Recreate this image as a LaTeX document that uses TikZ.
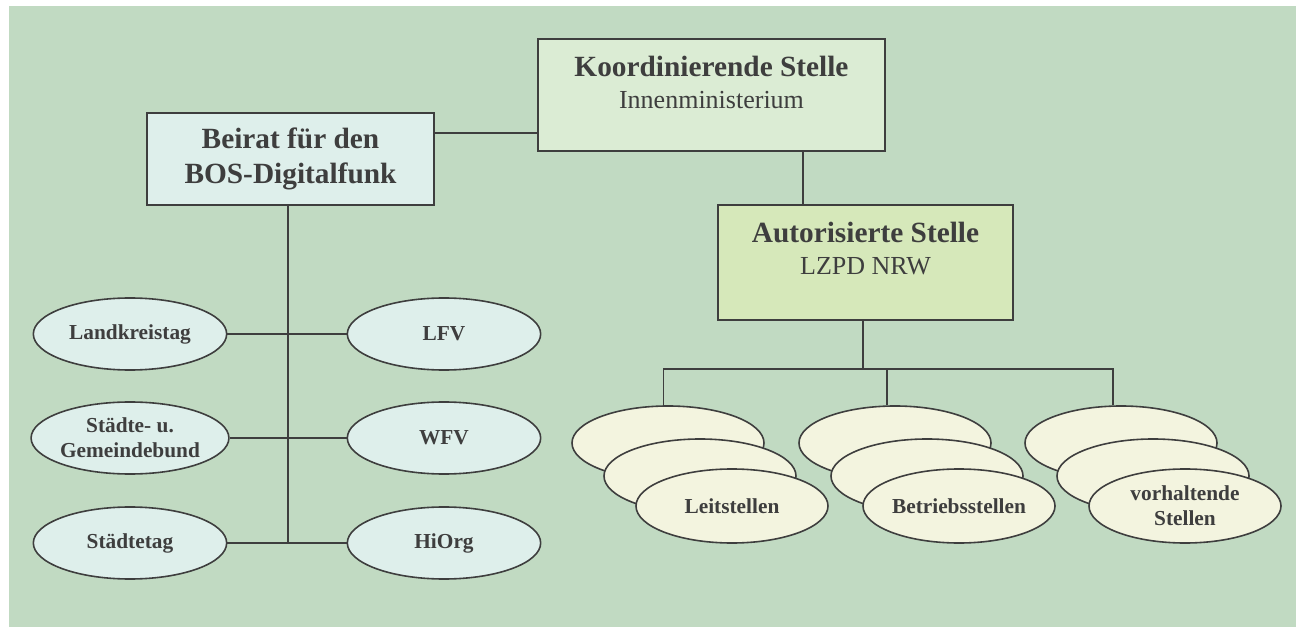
\documentclass[tikz,border=0pt]{standalone}
\usepackage{fontspec}
\setmainfont{Liberation Serif}
\usetikzlibrary{shapes.geometric}
\definecolor{hintergrund}{RGB}{193,218,194}
\definecolor{linie}{RGB}{62,62,62}
\definecolor{koordfarbe}{RGB}{219,236,212}
\definecolor{beiratfarbe}{RGB}{222,239,235}
\definecolor{autofarbe}{RGB}{214,232,186}
\definecolor{stellenfarbe}{RGB}{243,244,223}
\begin{document}
\begin{tikzpicture}[x=0.75pt,y=-0.75pt,
    kasten/.style={draw=linie,line width=1.2pt,inner sep=0pt},
    titel/.style={inner sep=0pt,align=center,text=linie,font=\fontsize{22}{24}\selectfont},
    oval/.style={ellipse,draw=linie,line width=1.2pt,fill=beiratfarbe,inner sep=0pt,
      minimum width=145pt,minimum height=54pt,align=center,text=linie,
      font=\fontsize{16}{19}\selectfont\bfseries},
    stelle/.style={oval,fill=stellenfarbe,minimum width=144pt,minimum height=55.5pt},
    verbindung/.style={draw=linie,line width=1.2pt}]

        \useasboundingbox (0,0) rectangle (1300,627);
        \fill[hintergrund] (9,6) rectangle (1296,627);

        % oberste Ebene
        \node[kasten,fill=koordfarbe,minimum width=260pt,minimum height=84pt] (koord) at (711.5,95) {};
        \node[titel,anchor=north] (koordtext) at ([yshift=-13pt]koord.north)
            {\textbf{Koordinierende Stelle}\\{\fontsize{19.5}{24}\selectfont Innenministerium}};

        \node[kasten,fill=beiratfarbe,minimum width=215pt,minimum height=69pt,align=center,
            text=linie,font=\fontsize{22}{26}\selectfont\bfseries] (beirat) at (290.5,159)
            {Beirat für den\\BOS-Digitalfunk};

        \node[kasten,fill=autofarbe,minimum width=221pt,minimum height=86pt] (auto) at (865.5,262.5) {};
        \node[titel,anchor=north] (autotext) at ([yshift=-13pt]auto.north)
            {\textbf{Autorisierte Stelle}\\{\fontsize{19.5}{24}\selectfont LZPD NRW}};

        \coordinate (koppel) at (0,133);
        \coordinate (abzweig) at (803,0);
        \draw[verbindung] (beirat.east |- koppel) -- (koord.west |- koppel);
        \draw[verbindung] (koord.south -| abzweig) -- (auto.north -| abzweig);

        % Beirat
        \node[oval] (landkreistag) at (130,334) {Landkreistag};
        \node[oval] (gemeindebund) at (130,438) {Städte- u.\\Gemeindebund};
        \node[oval] (staedtetag) at (130,543) {Städtetag};
        \node[oval] (lfv) at (444,334) {LFV};
        \node[oval] (wfv) at (444,438) {WFV};
        \node[oval] (hiorg) at (444,543) {HiOrg};

        \coordinate (stamm) at (288,0);
        \draw[verbindung] (landkreistag) -- (lfv);
        \draw[verbindung] (gemeindebund) -- (wfv);
        \draw[verbindung] (staedtetag) -- (hiorg);
        \draw[verbindung] (beirat.south -| stamm) -- (stamm |- staedtetag);

        % Stellen
        \node[stelle] (leit1) at (668,443) {};
        \node[stelle] (leit2) at (700,476) {};
        \node[stelle] (leit) at (732,506) {Leitstellen};
        \node[stelle] (betrieb1) at (895,443) {};
        \node[stelle] (betrieb2) at (927,476) {};
        \node[stelle] (betrieb) at (959,506) {Betriebsstellen};
        \node[stelle] (vorh1) at (1121,443) {};
        \node[stelle] (vorh2) at (1153,476) {};
        \node[stelle] (vorh) at (1185,506) {vorhaltende\\Stellen};

        \coordinate (bus) at (0,369);
        \coordinate (mitte) at (863,0);
        \coordinate (d1) at ([xshift=-3.5pt]leit1.north);
        \coordinate (d2) at ([xshift=-6pt]betrieb1.north);
        \coordinate (d3) at ([xshift=-6pt]vorh1.north);
        \draw[verbindung] (auto.south -| mitte) -- (mitte |- bus);
        \draw[verbindung] (d1) -- (d1 |- bus) -- (d3 |- bus) -- (d3);
        \draw[verbindung] (d2 |- bus) -- (d2);

\end{tikzpicture}
\end{document}
